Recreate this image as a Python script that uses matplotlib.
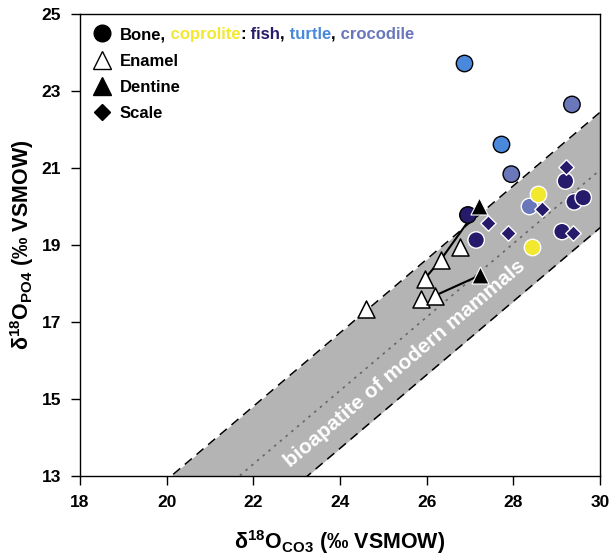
import numpy as np
import matplotlib
matplotlib.use("Agg")
import matplotlib.pyplot as plt
from matplotlib.lines import Line2D

plt.rcParams["font.family"] = ["Liberation Sans", "DejaVu Sans"]
plt.rcParams["font.weight"] = "bold"
plt.rcParams["mathtext.fontset"] = "custom"
plt.rcParams["mathtext.rm"] = "Liberation Sans:bold"
plt.rcParams["mathtext.bf"] = "Liberation Sans:bold"

# --- data ---
fish_bone_x = [26.95, 27.14, 29.20, 29.40, 29.61, 29.12]
fish_bone_y = [19.78, 19.13, 20.66, 20.12, 20.23, 19.35]
fish_bone_edge = ["black", "white", "white", "white", "white", "white"]

fish_scale_x = [29.21, 28.67, 27.41, 27.87, 29.37]
fish_scale_y = [21.03, 19.93, 19.56, 19.32, 19.32]

turtle_x = [26.87, 27.72]
turtle_y = [23.73, 21.62]

croc_x = [29.35, 27.95, 28.37]
croc_y = [22.65, 20.84, 20.00]
croc_edge = ["black", "black", "white"]

copro_x = [28.56, 28.43]
copro_y = [20.32, 18.94]

enamel_x = [24.59, 25.86, 25.95, 26.18, 26.32, 26.76]
enamel_y = [17.33, 17.59, 18.12, 17.68, 18.61, 18.96]

dentine_x = [27.20, 27.24]
dentine_y = [20.00, 18.22]

# tie lines: (dentine index, list of enamel indices)
links = [(0, [4, 2]), (1, [3])]

# modern mammal bioapatite line and band
band_slope = 0.955
band_icpt = -7.7
band_half = 1.5

c_fish = "#261b6b"
c_turtle = "#4a88dc"
c_croc = "#6b77bb"
c_copro = "#f2e82e"
c_band = "#b4b4b4"

fig = plt.figure(figsize=(6.13, 5.57), dpi=100)
ax = fig.add_axes([0.1305, 0.1454, 0.979 - 0.1305, 0.9749 - 0.1454])

xx = np.array([18, 30])
mid = band_slope * xx + band_icpt
ax.fill_between(xx, mid - band_half, mid + band_half, color=c_band, lw=0, zorder=1)
ax.plot(xx, mid + band_half, color="black", ls=(0, (6, 4)), lw=1.1, zorder=2)
ax.plot(xx, mid - band_half, color="black", ls=(0, (6, 4)), lw=1.1, zorder=2)
ax.plot(xx, mid, color="#666666", ls=(0, (1.5, 3)), lw=1.2, zorder=2)

ang = np.degrees(np.arctan(band_slope * (462 / 12) / (520 / 12)))
ax.text(25.49, 15.93, "bioapatite of modern mammals", color="white", fontsize=15,
        fontweight="bold", rotation=ang, rotation_mode="anchor",
        ha="center", va="center", zorder=3)

for di, eis in links:
    px = [dentine_x[di]] + [enamel_x[i] for i in eis]
    py = [dentine_y[di]] + [enamel_y[i] for i in eis]
    ax.plot(px, py, color="black", lw=1.5, zorder=3)

ms_c = 140
ax.scatter(turtle_x, turtle_y, s=ms_c, c=c_turtle, edgecolors="black", linewidths=1, zorder=4)
ax.scatter(croc_x, croc_y, s=ms_c, c=c_croc, edgecolors=croc_edge, linewidths=1, zorder=4)
ax.scatter(copro_x, copro_y, s=ms_c, c=c_copro, edgecolors="white", linewidths=1, zorder=4)
ax.scatter(fish_bone_x, fish_bone_y, s=ms_c, c=c_fish, edgecolors=fish_bone_edge, linewidths=1, zorder=4)
ax.scatter(fish_scale_x, fish_scale_y, s=62, marker="D", c=c_fish, edgecolors="white", linewidths=1, zorder=5)
ax.scatter(enamel_x, enamel_y, s=150, marker="^", c="white", edgecolors="black", linewidths=1.1, zorder=5)
ax.scatter(dentine_x, dentine_y, s=150, marker="^", c="black", edgecolors="white", linewidths=0.8, zorder=6)

ax.set_xlim(18, 30)
ax.set_ylim(13, 25)
ax.set_xticks(np.arange(18, 31, 2))
ax.set_yticks(np.arange(13, 26, 2))
ax.tick_params(direction="out", length=6.5, width=1, labelsize=12.5, pad=7)
for lab in ax.get_xticklabels() + ax.get_yticklabels():
    lab.set_fontweight("bold")
for sp in ax.spines.values():
    sp.set_linewidth(1)

ax.set_xlabel(r"δ$^{18}$O$_{\mathrm{CO3}}$ (‰ VSMOW)", fontsize=15.5, fontweight="bold", labelpad=13)
ax.set_ylabel(r"δ$^{18}$O$_{\mathrm{PO4}}$ (‰ VSMOW)", fontsize=15.5, fontweight="bold", labelpad=4)

handles = [
    Line2D([], [], marker="o", ls="", color="black", markersize=12),
    Line2D([], [], marker="^", ls="", markerfacecolor="white", markeredgecolor="black", markersize=13),
    Line2D([], [], marker="^", ls="", color="black", markersize=13),
    Line2D([], [], marker="D", ls="", color="black", markersize=8.5),
]
leg = ax.legend(handles, ["Bone,", "Enamel", "Dentine", "Scale"], loc="upper left",
                frameon=False, handlelength=1.0, handletextpad=0.6,
                labelspacing=0.68, borderaxespad=0.4, prop={"weight": "bold", "size": 12})

prev = leg.get_texts()[0]
for word, col in [(" coprolite", c_copro), (":", "black"), (" fish", c_fish), (",", "black"),
                  (" turtle", c_turtle), (",", "black"), (" crocodile", c_croc)]:
    prev = ax.annotate(word, xy=(1, 0), xycoords=prev, ha="left", va="bottom",
                       color=col, fontsize=12, fontweight="bold", zorder=20)

fig.canvas.draw()
fig.savefig("out.png", dpi=100)
